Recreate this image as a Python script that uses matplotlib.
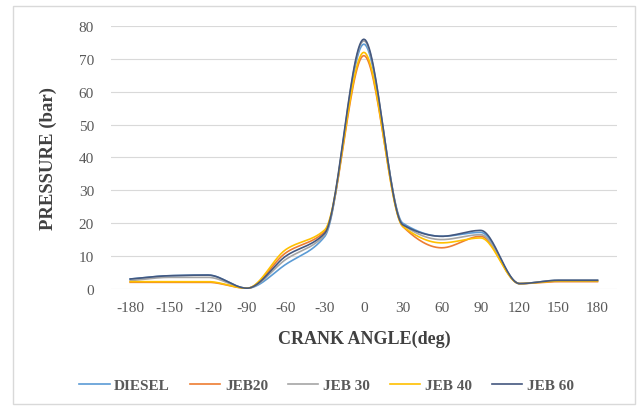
import numpy as np
import matplotlib.pyplot as plt
from matplotlib.patches import Rectangle

# crank angle positions (deg)
angle = [-180, -150, -120, -90, -60, -30, 0, 30, 60, 90, 120, 150, 180]

# cylinder pressure (bar) for each fuel
diesel = [3.0, 4.0, 4.2, 0.2, 7.5, 16.0, 74.5, 20.0, 16.0, 17.2, 1.6, 2.6, 2.6]
jeb20 = [2.0, 2.0, 2.0, 0.2, 11.0, 17.5, 71.0, 19.0, 12.5, 16.0, 1.6, 2.2, 2.2]
jeb30 = [2.5, 3.5, 3.5, 0.2, 9.0, 16.5, 75.5, 19.5, 15.0, 16.5, 1.6, 2.6, 2.6]
jeb40 = [2.2, 2.2, 2.2, 0.2, 12.0, 18.0, 72.0, 19.0, 14.0, 15.5, 1.6, 2.4, 2.4]
jeb60 = [3.0, 4.0, 4.2, 0.2, 10.0, 17.0, 76.0, 19.5, 16.0, 17.8, 1.6, 2.6, 2.6]

labels = ["DIESEL", "JEB20", "JEB 30", "JEB 40", "JEB 60"]
colors = ["#5B9BD5", "#ED7D31", "#A5A5A5", "#FFC000", "#44587f"]


def smooth(x, y, n=30):
    # piecewise cubic through the points with shape-preserving tangents
    x = np.asarray(x, float)
    y = np.asarray(y, float)
    h = np.diff(x)
    d = np.diff(y) / h
    m = np.zeros_like(y)
    for i in range(1, len(y) - 1):
        if d[i - 1] * d[i] > 0:
            m[i] = 2 / (1 / d[i - 1] + 1 / d[i])
    m[0], m[-1] = d[0], d[-1]
    xs, ys = [], []
    t = np.linspace(0, 1, n)
    for i in range(len(x) - 1):
        h00 = 2 * t**3 - 3 * t**2 + 1
        h10 = t**3 - 2 * t**2 + t
        h01 = -2 * t**3 + 3 * t**2
        h11 = t**3 - t**2
        xs.extend(x[i] + t * h[i])
        ys.extend(h00 * y[i] + h10 * h[i] * m[i] + h01 * y[i + 1] + h11 * h[i] * m[i + 1])
    return xs, ys


plt.rcParams['font.family'] = ['Liberation Serif', 'DejaVu Serif']
plt.rcParams['axes.unicode_minus'] = False

fig = plt.figure(figsize=(6.4, 4.1), dpi=100)
ax = fig.add_axes([0.173, 0.293, 0.791, 0.641])

for series, lab, col in zip([diesel, jeb20, jeb30, jeb40, jeb60], labels, colors):
    sx, sy = smooth(angle, series)
    ax.plot(sx, sy, color=col, lw=1.2, label=lab)

ax.set_xlim(-195, 195)
ax.set_ylim(0, 80)
ax.set_xticks(angle)
ax.set_yticks(range(0, 81, 10))
ax.grid(axis='y', color='#d9d9d9', lw=0.8)
ax.set_axisbelow(True)
for s in ax.spines.values():
    s.set_visible(False)
ax.tick_params(length=0, labelsize=11, colors='#595959', pad=9)
ax.tick_params(axis='y', pad=12)

ax.set_xlabel("CRANK ANGLE(deg)", fontsize=13, fontweight='bold', color='#404040', labelpad=11)
ax.set_ylabel("PRESSURE (bar)", fontsize=13.5, fontweight='bold', color='#404040', labelpad=16)

leg = fig.legend(loc='center', bbox_to_anchor=(0.51, 0.058), ncol=5, frameon=False,
                 fontsize=11, handlelength=2.0, columnspacing=1.3, handletextpad=0.3)
for t in leg.get_texts():
    t.set_fontweight('bold')
    t.set_color('#595959')

# chart border
fig.patches.append(Rectangle((0.02, 0.012), 0.972, 0.972, transform=fig.transFigure,
                             fill=False, edgecolor='#d9d9d9', lw=1))

plt.savefig("out.png", dpi=100)
